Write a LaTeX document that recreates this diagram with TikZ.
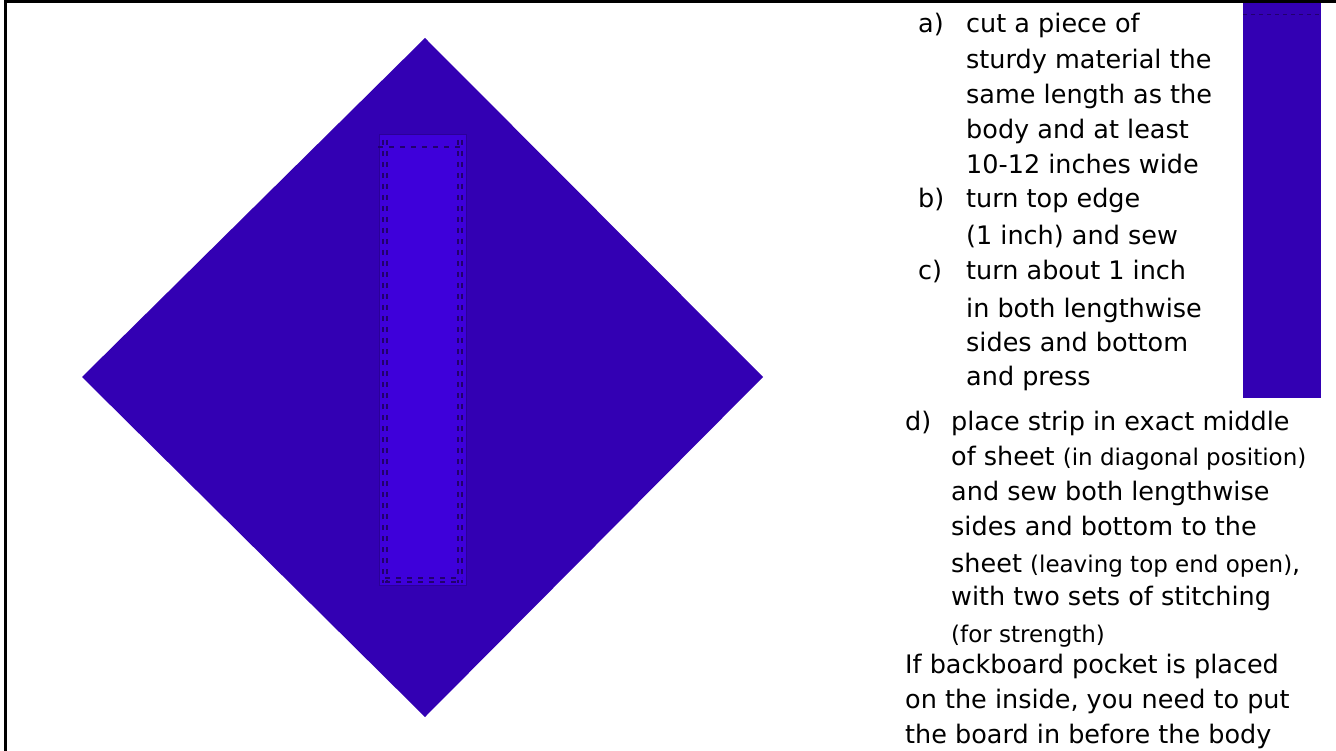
\documentclass[tikz,border=0pt]{standalone}
\usepackage{fontspec}
\setmainfont{DejaVu Sans}
\usetikzlibrary{positioning}
\definecolor{sheet}{RGB}{51,0,179}
\definecolor{strip}{RGB}{62,0,218}
\definecolor{stitch}{RGB}{34,0,110}
\newcommand{\aside}[1]{{\fontsize{23}{35}\selectfont #1}}

\begin{document}
\begin{tikzpicture}[x=1pt,y=-1pt,txt/.style={anchor=base west,inner sep=0pt,font=\fontsize{25.5}{35}\selectfont},seam/.style={stitch,line width=1.6pt,dash pattern=on 5pt off 6pt}]
\useasboundingbox (0,0) rectangle (1336,751);
% frame
\draw[line width=3pt] (5,751) |- (1336,2);
% sheet with pocket strip
\fill[sheet] (425,38) -- (763,377) -- (425,717) -- (82,377) -- cycle;
\filldraw[fill=strip,draw=sheet!85!black,line width=1pt] (379,135) rectangle (466,585);
\draw[seam] (378,147) -- (464,147);
\draw[seam] (383,140) -- (383,583);\draw[seam] (387,140) -- (387,583);
\draw[seam] (458,140) -- (458,583);\draw[seam] (462,140) -- (462,583);
\draw[seam] (385,578) -- (462,578);\draw[seam] (385,582) -- (462,582);
% strip before sewing
\fill[sheet] (1243,3) rectangle (1321,398);
\draw[seam,line width=1pt,dash pattern=on 4pt off 4pt] (1243,15) -- (1321,15);
% steps
\node[txt] (la) at (918,33) {a)};
\foreach \n/\y/\t in {1/33/cut a piece of,2/69/sturdy material the,3/104/same length as the,4/139/body and at least,5/174/10-12 inches wide}
  \node[txt] (a\n) at (966,\y) {\t};
\node[txt] (lb) at (918,208) {b)};
\node[txt] (b1) at (966,208) {turn top edge};
\node[txt] (b2) at (966,245) {(1 inch) and sew};
\node[txt] (lc) at (918,280) {c)};
\foreach \n/\y/\t in {1/280/turn about 1 inch,2/317/in both lengthwise,3/352/sides and bottom,4/385/and press}
  \node[txt] (c\n) at (966,\y) {\t};
\node[txt] (ld) at (905,430) {d)};
\node[txt] (d1) at (951,430) {place strip in exact middle};
\node[txt] (d2) at (951,465) {of sheet \aside{(in diagonal position)}};
\node[txt] (d3) at (951,500) {and sew both lengthwise};
\node[txt] (d4) at (951,535) {sides and bottom to the};
\node[txt] (d5) at (951,572) {sheet \aside{(leaving top end open)},};
\node[txt] (d6) at (951,605) {with two sets of stitching};
\node[txt] (d7) at (951,642) {\aside{(for strength)}};
\foreach \n/\y/\t in {1/673/If backboard pocket is placed,2/708/{on the inside, you need to put},3/743/the board in before the body}
  \node[txt] (e\n) at (905,\y) {\t};
\end{tikzpicture}
\end{document}
